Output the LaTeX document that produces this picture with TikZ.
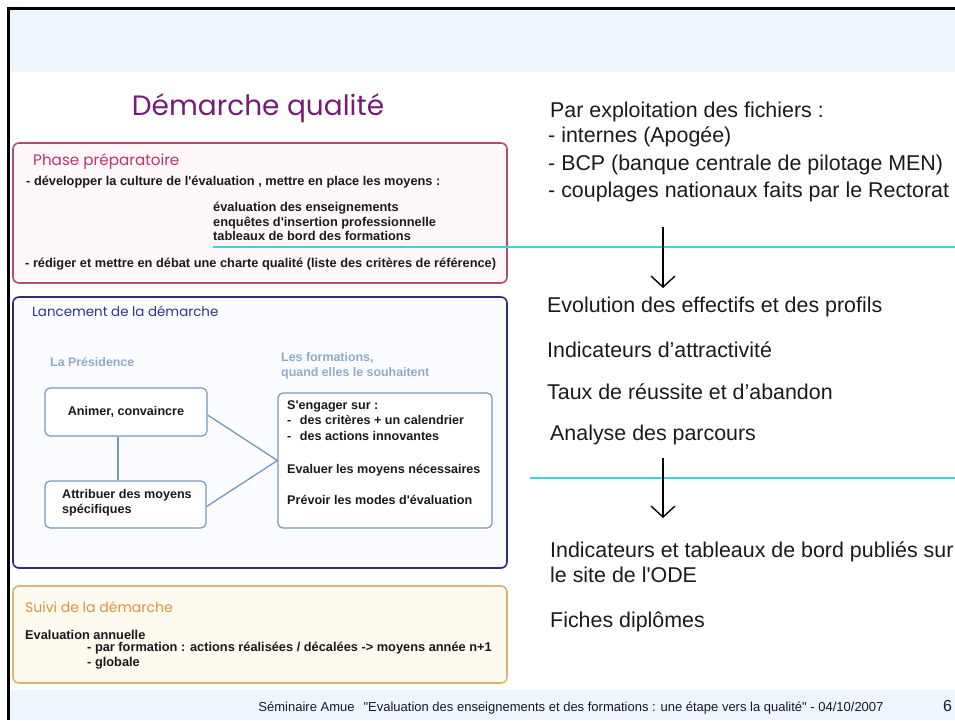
\documentclass[tikz,border=0pt]{standalone}
\usepackage{fontspec}
\setmainfont{Liberation Sans}
\newfontfamily\hand{Poppins}
\usetikzlibrary{arrows.meta,fit}
\newcommand\sq{\textquotesingle}
\definecolor{bandblue}{HTML}{EEF5FC}
\definecolor{titlepurple}{HTML}{7A1A78}
\definecolor{pinkborder}{HTML}{B04A78}
\definecolor{pinkfill}{HTML}{FFF8FB}
\definecolor{pinktext}{HTML}{C2306E}
\definecolor{navyborder}{HTML}{2E2E78}
\definecolor{navyfill}{HTML}{FBFCFF}
\definecolor{navytext}{HTML}{2E3290}
\definecolor{steel}{HTML}{7398C0}
\definecolor{lightsteel}{HTML}{8FAACA}
\definecolor{orangeborder}{HTML}{D9B370}
\definecolor{orangefill}{HTML}{FFFAF0}
\definecolor{orangetext}{HTML}{E0923A}
\definecolor{cyanline}{HTML}{3FD4DA}
\definecolor{textgray}{HTML}{1A1A1A}
\tikzset{
  bigbox/.style={inner sep=0pt, rounded corners=6pt, line width=1.6pt},
  smallbox/.style={draw=steel, fill=white, inner sep=0pt, rounded corners=5pt, line width=1.2pt},
  link/.style={draw=steel, line width=1.3pt},
  cyanrule/.style={draw=cyanline, line width=2pt},
  downarrow/.style={draw=black, line width=1.4pt, -{Straight Barb[length=11pt,width=24pt,line width=1.4pt]}},
  bold/.style={font=\fontsize{12.8}{14.5}\selectfont\bfseries, text=textgray, inner sep=0pt, anchor=west},
  boldl/.style={font=\fontsize{12.6}{15.5}\selectfont\bfseries, text=textgray, inner sep=0pt, anchor=west},
  head/.style={font=\hand\fontsize{14.5}{16}\selectfont, inner sep=0pt, anchor=west},
  side/.style={font=\fontsize{12.4}{15}\selectfont\bfseries, text=lightsteel, inner sep=0pt, anchor=west, align=left},
  big/.style={font=\fontsize{21.4}{25}\selectfont, text=textgray, inner sep=0pt, anchor=west}
}
\begin{document}
\begin{tikzpicture}[x=1pt,y=-1pt]
\useasboundingbox (0,0) rectangle (955,720);
% bands and frame
\fill[bandblue] (10,10) rectangle (955,72);
\fill[bandblue] (10,690) rectangle (955,720);
\draw[line width=3pt] (8.5,720) -- (8.5,8.5) -- (955,8.5);
% title
\node[font=\hand\fontsize{28}{32}\selectfont, text=titlepurple, inner sep=0pt] (title) at (258,108) {Démarche qualité};
% phase préparatoire
\node[bigbox, draw=pinkborder, fill=pinkfill, fit={(13,143) (507,283)}] (phase) {};
\node[head, text=pinktext, font=\hand\fontsize{15.2}{16}\selectfont] (phaset) at (33,162) {Phase préparatoire};
\node[bold] (p1) at (26,182) {- développer la culture de l\sq évaluation , mettre en place les moyens :};
\node[bold, align=left, anchor=north west] (p2) at (213,202) {évaluation des enseignements\\enquêtes d\sq insertion professionnelle\\tableaux de bord des formations};
\node[bold] (p3) at (25,264) {- rédiger et mettre en débat une charte qualité (liste des critères de référence)};
% lancement
\node[bigbox, draw=navyborder, fill=navyfill, fit={(13,297) (507,568)}] (lanc) {};
\node[head, text=navytext, font=\hand\fontsize{13.4}{16}\selectfont] (lanct) at (32,311) {Lancement de la démarche};
\node[side] (pres) at (50,362) {La Présidence};
\node[side, anchor=north west] (form) at (281,352) {Les formations,\\quand elles le souhaitent};
\node[smallbox, fit={(45,388) (207,436)}] (anim) {};
\node[boldl] at (anim.center) [anchor=center] (animt) {Animer, convaincre};
\node[smallbox, fit={(45,481) (206,528)}] (attr) {};
\node[boldl, align=left, anchor=north west] (attrt) at (62,489) {Attribuer des moyens\\spécifiques};
\node[smallbox, fit={(278,393) (492,528)}] (eng) {};
\node[boldl, align=left, anchor=north west] (engt) at (287,400) {S\sq engager sur :\\-\hspace{5pt} des critères + un calendrier\\-\hspace{5pt} des actions innovantes};
\node[boldl] (eval) at (287,470) {Evaluer les moyens nécessaires};
\node[boldl] (prev) at (287,500) {Prévoir les modes d\sq évaluation};
\draw[link] (anim.south -| 118,0) -- (attr.north -| 118,0);
\draw[link] ([yshift=-3pt]anim.east) -- (eng.west);
\draw[link] ([yshift=-2pt]attr.east) -- (eng.west);
% suivi
\node[bigbox, draw=orangeborder, fill=orangefill, fit={(13,586) (507,683)}] (suivi) {};
\node[head, text=orangetext, font=\hand\fontsize{14}{16}\selectfont] (suivit) at (25,607) {Suivi de la démarche};
\node[bold] (s1) at (25,635) {Evaluation annuelle};
\node[bold, align=left, anchor=north west, font=\fontsize{12.8}{15}\selectfont\bfseries] (s2) at (87,642) {- par formation : actions réalisées / décalées -> moyens année n+1\\- globale};
% right column
\node[big] (r1) at (550,112) {Par exploitation des fichiers :};
\node[big] (r2) at (548,137) {- internes (Apogée)};
\node[big] (r3) at (548,165) {- BCP (banque centrale de pilotage MEN)};
\node[big] (r4) at (548,192) {- couplages nationaux faits par le Rectorat};
\coordinate (c1a) at (213,247);
\coordinate (c1b) at (955,247);
\draw[cyanrule] (c1a) -- (c1b);
\coordinate (a1s) at (663,227);
\coordinate (a1e) at (663,288);
\draw[downarrow] (a1s) -- (a1e);
\node[big] (r5) at (547,307) {Evolution des effectifs et des profils};
\node[big] (r6) at (547,350) {Indicateurs d’attractivité};
\node[big] (r7) at (547,392) {Taux de réussite et d’abandon};
\node[big] (r8) at (550,435) {Analyse des parcours};
\coordinate (c2a) at (530,478);
\coordinate (c2b) at (955,478);
\draw[cyanrule] (c2a) -- (c2b);
\coordinate (a2s) at (663,458);
\coordinate (a2e) at (663,518);
\draw[downarrow] (a2s) -- (a2e);
\node[big] (r9) at (550,552) {Indicateurs et tableaux de bord publiés sur};
\node[big] (r10) at (550,575) {le site de l\sq ODE};
\node[big] (r11) at (550,622) {Fiches diplômes};
% footer
\node[font=\fontsize{13}{15}\selectfont, text=textgray, inner sep=0pt] (foot) at (571,708) {Séminaire Amue\hspace{9pt}\textquotedbl Evaluation des enseignements et des formations : une étape vers la qualité\textquotedbl{} - 04/10/2007};
\node[font=\fontsize{16}{18}\selectfont, text=textgray, inner sep=0pt, anchor=west] (page) at (943,706) {6};
\end{tikzpicture}
\end{document}
